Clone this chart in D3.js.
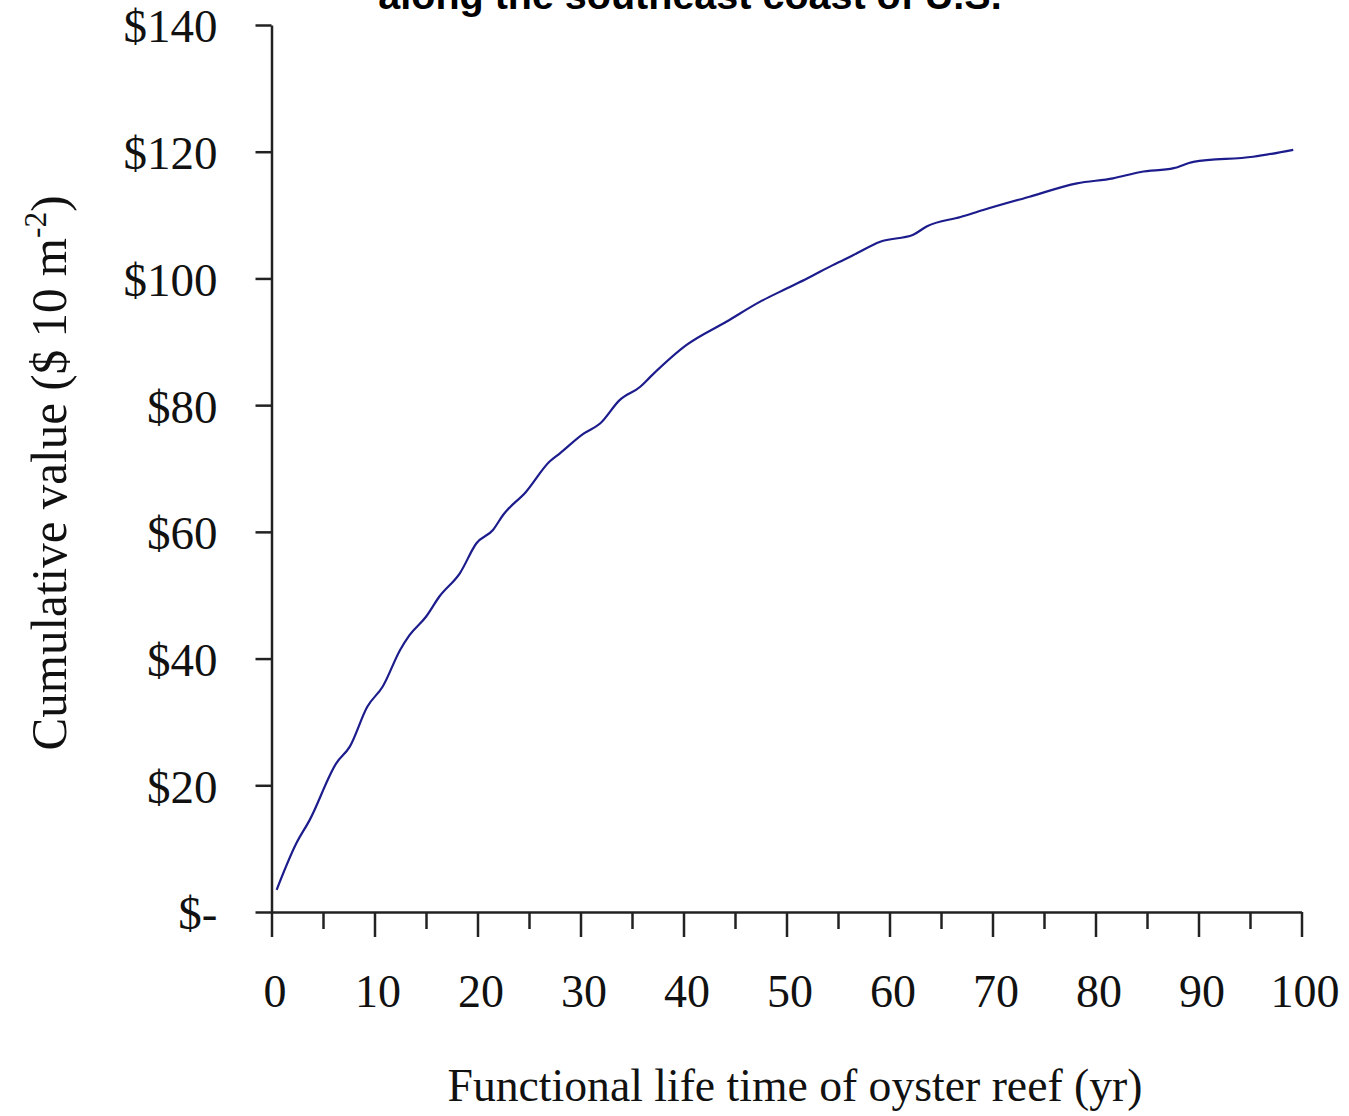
<!DOCTYPE html>
<html>
<head>
<meta charset="utf-8">
<script src="https://cdn.jsdelivr.net/npm/d3@7"></script>
<style>
  body { margin: 0; background: #fff; }
  svg { display: block; }
</style>
</head>
<body>
<div id="chart"></div>
<script>
// oyster reef cumulative value curve

const width = 1349;
const height = 1116;
const margin = { top: 25, right: 47.5, bottom: 204, left: 271.5 };

// values
const years = [0.5, 2.4, 3.7, 6.3, 7.6, 9.3, 10.8, 12.5, 13.4, 15.0, 16.3, 18.3, 19.9,
  21.5, 22.5, 24.7, 27.0, 28.0, 30.3, 31.9, 33.8, 35.8, 36.8, 40.3, 44.2, 47.4, 50.0,
  52.0, 54.5, 56.5, 59.1, 62.3, 63.6, 66.9, 69.1, 73.6, 78.2, 81.7, 84.4, 87.6, 89.5,
  95.3, 99.2];
const values = [3.5, 10.8, 14.5, 23.5, 26.1, 32.4, 35.6, 41.4, 43.7, 46.6, 49.8, 53.5, 58.2,
  60.3, 62.7, 66.3, 71.1, 72.4, 75.5, 77.1, 80.8, 82.9, 84.5, 89.5, 93.2, 96.3, 98.4,
  100.0, 102.1, 103.7, 105.8, 106.9, 108.2, 109.7, 110.8, 112.9, 115.0, 115.8, 116.8, 117.4, 118.4,
  119.2, 120.3];
const yTicks = [0, 20, 40, 60, 80, 100, 120, 140];
const xTicks = d3.range(0, 101, 5);

const svg = d3.select("#chart")
  .append("svg")
  .attr("width", width)
  .attr("height", height);

const x = d3.scaleLinear()
  .domain([0, 100])
  .range([margin.left, width - margin.right]);

const y = d3.scaleLinear()
  .domain([0, 140])
  .range([height - margin.bottom, margin.top]);

// title, clipped at the top of the picture as in the source
svg.append("text")
  .attr("x", 690)
  .attr("y", 9)
  .attr("text-anchor", "middle")
  .attr("font-family", "'Liberation Sans', Arial, sans-serif")
  .attr("font-weight", "bold")
  .attr("font-size", 39.5)
  .text("along the southeast coast of U.S.");

// y axis
const yAxis = svg.append("g")
  .attr("transform", `translate(${margin.left},0)`)
  .call(d3.axisLeft(y)
    .tickValues(yTicks)
    .tickSize(16)
    .tickSizeOuter(0)
    .tickFormat(d => d === 0 ? "$-" : "$" + d));

yAxis.select(".domain").attr("stroke", "#222").attr("stroke-width", 2.5);
yAxis.selectAll(".tick line").attr("stroke", "#222").attr("stroke-width", 2.5);
yAxis.selectAll(".tick text")
  .attr("x", -54)
  .attr("dy", "0.36em")
  .attr("fill", "#111")
  .attr("font-family", "'Liberation Serif', 'Times New Roman', serif")
  .attr("font-size", 47);

// x axis: labels every 10, short ticks every 5
const xAxis = svg.append("g")
  .attr("transform", `translate(0,${height - margin.bottom})`)
  .call(d3.axisBottom(x)
    .tickValues(xTicks)
    .tickSize(25)
    .tickSizeOuter(0)
    .tickFormat(d => d % 10 === 0 ? d : ""));

xAxis.select(".domain").attr("stroke", "#222").attr("stroke-width", 2.5);
xAxis.selectAll(".tick line")
  .attr("stroke", "#222")
  .attr("stroke-width", 2.5)
  .attr("y2", d => d % 10 === 0 ? 25 : 17);
xAxis.selectAll(".tick text")
  .attr("x", 3)
  .attr("y", 95)
  .attr("dy", 0)
  .attr("fill", "#111")
  .attr("font-family", "'Liberation Serif', 'Times New Roman', serif")
  .attr("font-size", 46);

// axis titles
svg.append("text")
  .attr("x", 795)
  .attr("y", 1101)
  .attr("text-anchor", "middle")
  .attr("fill", "#111")
  .attr("font-family", "'Liberation Serif', 'Times New Roman', serif")
  .attr("font-size", 46)
  .attr("textLength", 695)
  .attr("lengthAdjust", "spacingAndGlyphs")
  .text("Functional life time of oyster reef (yr)");

const yTitle = svg.append("text")
  .attr("transform", "translate(66,473) rotate(-90)")
  .attr("text-anchor", "middle")
  .attr("fill", "#111")
  .attr("font-family", "'Liberation Serif', 'Times New Roman', serif")
  .attr("font-size", 50)
  .attr("textLength", 555)
  .attr("lengthAdjust", "spacingAndGlyphs");
yTitle.append("tspan").text("Cumulative value ($ 10 m");
yTitle.append("tspan").attr("dy", -20).attr("font-size", 32).text("-2");
yTitle.append("tspan").attr("dy", 20).text(")");

// curve
const line = d3.line()
  .x(d => x(d[0]))
  .y(d => y(d[1]))
  .curve(d3.curveMonotoneX);

svg.append("path")
  .datum(d3.zip(years, values))
  .attr("fill", "none")
  .attr("stroke", "#1c1c8c")
  .attr("stroke-width", 2.2)
  .attr("d", line);
</script>
</body>
</html>
